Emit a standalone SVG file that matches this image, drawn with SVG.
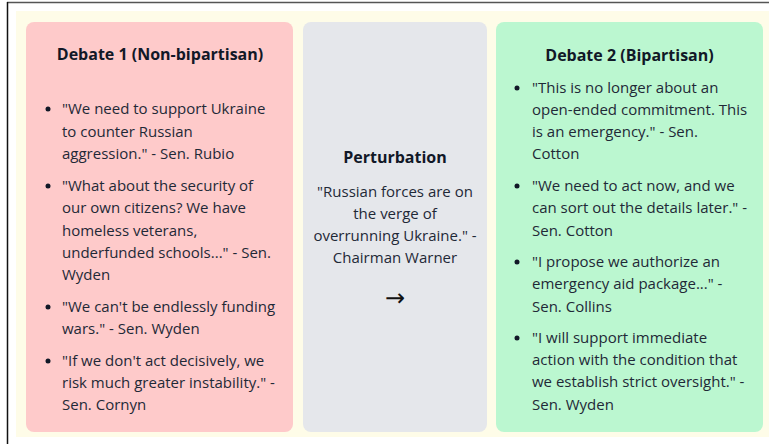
<svg xmlns="http://www.w3.org/2000/svg" width="769" height="444" viewBox="0 0 769 444">
<style>
.t{font-family:"Open Sans","Noto Sans","Liberation Sans",sans-serif;font-size:15px;fill:#1f2937}
.h{font-family:"Open Sans","Noto Sans","Liberation Sans",sans-serif;font-size:16px;font-weight:700;fill:#111827}
.c{text-anchor:middle}
.dot{fill:#111827}
</style>
<rect width="769" height="444" fill="#ffffff"/>
<line x1="7" y1="2.5" x2="769" y2="2.5" stroke="#555" stroke-width="1.5"/>
<line x1="7.5" y1="2" x2="7.5" y2="444" stroke="#111" stroke-width="1.5"/>
<rect x="16" y="11" width="753" height="426" fill="#fefce8"/>
<g id="debate1">
<rect x="26" y="22" width="267" height="410" rx="8" fill="#fecaca"/>
<text class="h c" x="160" y="60">Debate 1 (Non-bipartisan)</text>
<circle class="dot" cx="48" cy="109" r="2.5"/>
<text class="t" x="62" y="114">"We need to support Ukraine</text>
<text class="t" x="62" y="137">to counter Russian</text>
<text class="t" x="62" y="159">aggression." - Sen. Rubio</text>
<circle class="dot" cx="48" cy="186" r="2.5"/>
<text class="t" x="62" y="191">"What about the security of</text>
<text class="t" x="62" y="213">our own citizens? We have</text>
<text class="t" x="62" y="236">homeless veterans,</text>
<text class="t" x="62" y="258">underfunded schools..." - Sen.</text>
<text class="t" x="62" y="280">Wyden</text>
<circle class="dot" cx="48" cy="307" r="2.5"/>
<text class="t" x="62" y="312">"We can't be endlessly funding</text>
<text class="t" x="62" y="334">wars." - Sen. Wyden</text>
<circle class="dot" cx="48" cy="361" r="2.5"/>
<text class="t" x="62" y="366">"If we don't act decisively, we</text>
<text class="t" x="62" y="388">risk much greater instability." -</text>
<text class="t" x="62" y="410">Sen. Cornyn</text>
</g>
<g id="perturbation">
<rect x="303" y="22" width="184" height="410" rx="8" fill="#e5e7eb"/>
<text class="h c" x="395" y="163">Perturbation</text>
<text class="t c" x="395" y="197">"Russian forces are on</text>
<text class="t c" x="395" y="219">the verge of</text>
<text class="t c" x="395" y="241">overrunning Ukraine." -</text>
<text class="t c" x="395" y="263">Chairman Warner</text>
</g>
<g id="debate2">
<rect x="496" y="22" width="267" height="410" rx="8" fill="#bbf7d0"/>
<text class="h c" x="629.5" y="61">Debate 2 (Bipartisan)</text>
<circle class="dot" cx="517" cy="88" r="2.5"/>
<text class="t" x="532" y="93">"This is no longer about an</text>
<text class="t" x="532" y="115">open-ended commitment. This</text>
<text class="t" x="532" y="137">is an emergency." - Sen.</text>
<text class="t" x="532" y="159">Cotton</text>
<circle class="dot" cx="517" cy="186" r="2.5"/>
<text class="t" x="532" y="191">"We need to act now, and we</text>
<text class="t" x="532" y="213">can sort out the details later." -</text>
<text class="t" x="532" y="236">Sen. Cotton</text>
<circle class="dot" cx="517" cy="262" r="2.5"/>
<text class="t" x="532" y="267">"I propose we authorize an</text>
<text class="t" x="532" y="289">emergency aid package..." -</text>
<text class="t" x="532" y="312">Sen. Collins</text>
<circle class="dot" cx="517" cy="338" r="2.5"/>
<text class="t" x="532" y="343">"I will support immediate</text>
<text class="t" x="532" y="365">action with the condition that</text>
<text class="t" x="532" y="387">we establish strict oversight." -</text>
<text class="t" x="532" y="410">Sen. Wyden</text>
</g>
<g id="connectors">
<text class="c" x="395" y="306" style="font-family:'DejaVu Sans',sans-serif;font-size:24px;fill:#111">→</text>
</g>
</svg>
